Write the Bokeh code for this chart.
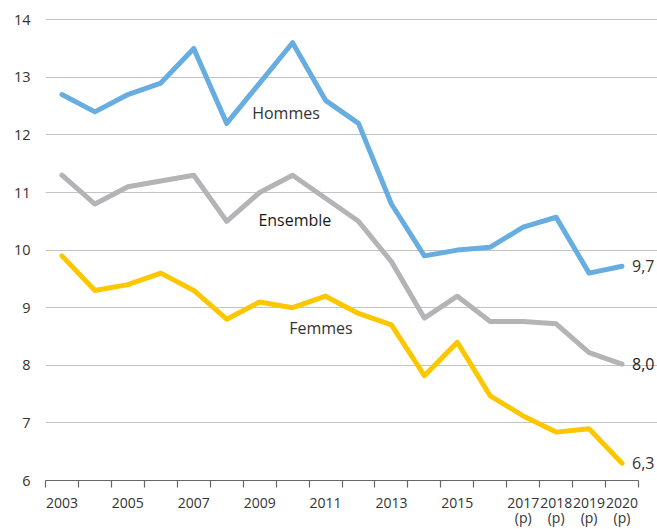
from bokeh.plotting import figure
from bokeh.models import FixedTicker, Range1d, ColumnDataSource
from bokeh.core.properties import value
from bokeh.embed import file_html
from bokeh.resources import INLINE

years = list(range(2003, 2021))
hommes = [12.7, 12.4, 12.7, 12.9, 13.5, 12.2, 12.9, 13.6, 12.6, 12.2, 10.8, 9.9, 10.0, 10.05, 10.4, 10.57, 9.6, 9.72]
ensemble = [11.3, 10.8, 11.1, 11.2, 11.3, 10.5, 11.0, 11.3, 10.9, 10.5, 9.8, 8.82, 9.2, 8.76, 8.76, 8.72, 8.22, 8.02]
femmes = [9.9, 9.3, 9.4, 9.6, 9.3, 8.8, 9.1, 9.0, 9.2, 8.9, 8.7, 7.82, 8.4, 7.47, 7.12, 6.84, 6.9, 6.3]

tick_years = [2003, 2005, 2007, 2009, 2011, 2013, 2015, 2017, 2018, 2019, 2020]
provisional = [2017, 2018, 2019, 2020]
y_ticks = [6, 7, 8, 9, 10, 11, 12, 13, 14]

series_names = ["Hommes", "Ensemble", "Femmes"]
series_colors = ["#68ade0", "#b4b4b7", "#fdc700"]
series_label_pos = [(2009.8, 12.38), (2010.07, 10.53), (2010.86, 8.64)]

FONT = "Open Sans"
TXT = "#333333"

n = len(years)
x0 = years[0] - 0.5
x1 = years[-1] + 0.5
W, H = 657, 529
left, bottom = 45, 49
frame_w = W - left
frame_h = H - bottom
px_per_year = (638 - 45) / n
px_per_unit = 57.6

p = figure(width=W, height=H, output_backend="svg", toolbar_location=None,
           min_border_left=left, min_border_right=0, min_border_top=0, min_border_bottom=bottom,
           x_range=Range1d(x0, x0 + frame_w / px_per_year),
           y_range=Range1d(6, 6 + frame_h / px_per_unit))
p.outline_line_color = None
p.background_fill_color = "white"
p.border_fill_color = "white"

# x axis
p.xaxis.ticker = FixedTicker(ticks=tick_years,
                             minor_ticks=[y - 0.5 for y in years] + [x1])
p.xaxis.major_label_overrides = {y: (f"{y}\n(p)" if y in provisional else str(y)) for y in tick_years}
p.xaxis.bounds = (x0, x1)
p.xaxis.axis_line_color = "#666666"
p.xaxis.axis_line_width = 1.2
p.xaxis.major_tick_line_color = None
p.xaxis.major_tick_out = 0
p.xaxis.major_tick_in = 0
p.xaxis.minor_tick_line_color = "#666666"
p.xaxis.minor_tick_line_width = 1.2
p.xaxis.minor_tick_out = 7
p.xaxis.minor_tick_in = 0
p.xaxis.major_label_standoff = 5
p.xaxis.major_label_text_font = FONT
p.xaxis.major_label_text_font_size = "14px"
p.xaxis.major_label_text_line_height = 0.8
p.xaxis.major_label_text_color = TXT

# y axis
p.yaxis.ticker = FixedTicker(ticks=y_ticks)
p.yaxis.axis_line_color = None
p.yaxis.major_tick_line_color = None
p.yaxis.minor_tick_line_color = None
p.yaxis.major_tick_out = 0
p.yaxis.major_tick_in = 0
p.yaxis.major_label_standoff = 15
p.yaxis.major_label_text_font = FONT
p.yaxis.major_label_text_font_size = "14.5px"
p.yaxis.major_label_text_color = TXT

p.xgrid.grid_line_color = None
p.ygrid.grid_line_color = "#c4c4c4"
p.ygrid.grid_line_width = 1.2
p.ygrid.bounds = (x0, x1)

for name, vals, col, (lx, ly) in zip(series_names, [hommes, ensemble, femmes],
                                     series_colors, series_label_pos):
    src = ColumnDataSource(dict(x=years, y=vals))
    p.line("x", "y", source=src, line_color=col, line_width=5,
           line_join="round", line_cap="round")
    strong = name == "Ensemble"
    p.text(x=[lx], y=[ly], text=[name], text_font=value(FONT),
           text_font_size="16px",
           text_color="#1a1a1a" if strong else TXT,
           text_align="center", text_baseline="middle")
    last = vals[-1]
    p.text(x=[years[-1]], y=[last], text=[f"{last:.1f}".replace(".", ",")],
           x_offset=10, text_font=value(FONT), text_font_size="16px",
           text_color="#1a1a1a" if strong else TXT,
           text_align="left", text_baseline="middle")

open("out.html", "w").write(file_html(p, INLINE))
